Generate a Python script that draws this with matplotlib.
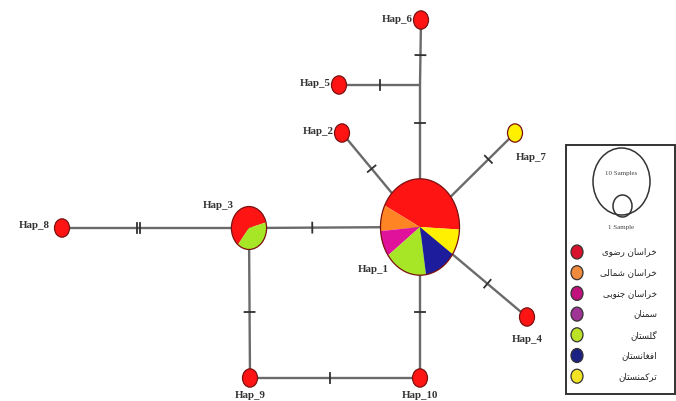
import matplotlib
matplotlib.use("Agg")
import matplotlib.pyplot as plt
import numpy as np
from matplotlib.patches import Ellipse, Polygon, Rectangle

# haplotypes, sample counts and how they split over the regions
haplotypes = ["Hap_1", "Hap_2", "Hap_3", "Hap_4", "Hap_5",
              "Hap_6", "Hap_7", "Hap_8", "Hap_9", "Hap_10"]
regions = ["خراسان رضوی", "خراسان شمالی", "خراسان جنوبی", "سمنان",
           "گلستان", "افغانستان", "ترکمنستان"]
region_colors = ["#ff1414", "#ff8424", "#e0129c", "#a02c98",
                 "#a6e626", "#1c1c9c", "#fff000"]
legend_colors = ["#d8122c", "#f08a3c", "#c0127c", "#a03494",
                 "#bce228", "#1c2282", "#f2e424"]
# counts per region, same order as regions
hap_counts = {
    "Hap_1": [10, 2, 2, 0, 4, 3, 2],
    "Hap_2": [1, 0, 0, 0, 0, 0, 0],
    "Hap_3": [3, 0, 0, 0, 2, 0, 0],
    "Hap_4": [1, 0, 0, 0, 0, 0, 0],
    "Hap_5": [1, 0, 0, 0, 0, 0, 0],
    "Hap_6": [1, 0, 0, 0, 0, 0, 0],
    "Hap_7": [0, 0, 0, 0, 0, 0, 1],
    "Hap_8": [1, 0, 0, 0, 0, 0, 0],
    "Hap_9": [1, 0, 0, 0, 0, 0, 0],
    "Hap_10": [1, 0, 0, 0, 0, 0, 0],
}
# links: (from, to, mutation steps)
links = [("Hap_6", "mv1", 1), ("mv1", "Hap_5", 1), ("mv1", "Hap_1", 1),
         ("Hap_2", "Hap_1", 1), ("Hap_7", "Hap_1", 1), ("Hap_4", "Hap_1", 1),
         ("Hap_3", "Hap_1", 1), ("Hap_8", "Hap_3", 2), ("Hap_3", "Hap_9", 1),
         ("Hap_9", "Hap_10", 1), ("Hap_10", "Hap_1", 1)]

# network layout (screen units, y down)
pos = {"Hap_1": (420, 227), "Hap_2": (342, 133), "Hap_3": (249, 228),
       "Hap_4": (527, 317), "Hap_5": (339, 85), "Hap_6": (421, 20),
       "Hap_7": (515, 133), "Hap_8": (62, 228), "Hap_9": (250, 378),
       "Hap_10": (420, 378), "mv1": (420, 85)}
tick_at = [0.54, 0.49, 0.27, 0.38, 0.28, 0.37, 0.37, 0.41, 0.56, 0.47, 0.44]
label_pos = {"Hap_1": (373, 270, "center"), "Hap_2": (334, 132, "right"),
             "Hap_3": (218, 206, "center"), "Hap_4": (527, 339, "center"),
             "Hap_5": (331, 84, "right"), "Hap_6": (413, 19, "right"),
             "Hap_7": (531, 158, "center"), "Hap_8": (50, 226, "right"),
             "Hap_9": (250, 395, "center"), "Hap_10": (420, 395, "center")}
start_angle = {"Hap_1": -3, "Hap_3": 15}

BASE_W, POWER, STRETCH = 15, 0.53, 1.22


# --- minimal Persian shaping so the glyphs join and read right to left ---
FORMS = {
    "ا": (0xFE8D, 0xFE8E, None, None), "ر": (0xFEAD, 0xFEAE, None, None),
    "و": (0xFEED, 0xFEEE, None, None),
    "ب": (0xFE8F, 0xFE90, 0xFE91, 0xFE92), "ت": (0xFE95, 0xFE96, 0xFE97, 0xFE98),
    "ج": (0xFE9D, 0xFE9E, 0xFE9F, 0xFEA0), "خ": (0xFEA5, 0xFEA6, 0xFEA7, 0xFEA8),
    "س": (0xFEB1, 0xFEB2, 0xFEB3, 0xFEB4), "ش": (0xFEB5, 0xFEB6, 0xFEB7, 0xFEB8),
    "ض": (0xFEBD, 0xFEBE, 0xFEBF, 0xFEC0), "غ": (0xFECD, 0xFECE, 0xFECF, 0xFED0),
    "ف": (0xFED1, 0xFED2, 0xFED3, 0xFED4), "ل": (0xFEDD, 0xFEDE, 0xFEDF, 0xFEE0),
    "م": (0xFEE1, 0xFEE2, 0xFEE3, 0xFEE4), "ن": (0xFEE5, 0xFEE6, 0xFEE7, 0xFEE8),
    "ی": (0xFBFC, 0xFBFD, 0xFBFE, 0xFBFF), "ک": (0xFB8E, 0xFB8F, 0xFB90, 0xFB91),
    "گ": (0xFB92, 0xFB93, 0xFB94, 0xFB95),
}


def shape(text):
    out = []
    for i, ch in enumerate(text):
        if ch not in FORMS:
            out.append(ch)
            continue
        f = FORMS[ch]
        prev = text[i - 1] if i > 0 else None
        nxt = text[i + 1] if i + 1 < len(text) else None
        jp = prev in FORMS and FORMS[prev][2] is not None
        jn = nxt in FORMS and f[2] is not None
        if jp and jn:
            code = f[3]
        elif jp:
            code = f[1]
        elif jn:
            code = f[2]
        else:
            code = f[0]
        out.append(chr(code))
    return "".join(reversed(out))


def node_size(n):
    w = BASE_W * n ** POWER
    return w, w * STRETCH


def wedge(ax, cx, cy, w, h, a1, a2, color):
    t = np.radians(np.linspace(a1, a2, 60))
    xs = np.concatenate([[cx], cx + w / 2 * np.cos(t)])
    ys = np.concatenate([[cy], cy - h / 2 * np.sin(t)])
    ax.add_patch(Polygon(np.column_stack([xs, ys]), closed=True,
                         facecolor=color, edgecolor="none", zorder=3))


def edge_end(name):
    return np.array(pos[name], dtype=float)


fig = plt.figure(figsize=(6.76, 4.01), dpi=100)
ax = fig.add_axes([0, 0, 1, 1])
ax.set_xlim(0, 676)
ax.set_ylim(401, 0)
ax.axis("off")

line_col = "#6a6a6a"

# links with mutation ticks
for (a, b, steps), frac in zip(links, tick_at):
    p, q = edge_end(a), edge_end(b)
    ax.plot([p[0], q[0]], [p[1], q[1]], color=line_col, lw=1.7, zorder=1,
            solid_capstyle="butt")
    d = (q - p) / np.linalg.norm(q - p)
    nrm = np.array([-d[1], d[0]])
    for k in range(steps):
        c = p + (q - p) * frac + d * (k - (steps - 1) / 2) * 3.0
        e1, e2 = c - nrm * 5, c + nrm * 5
        ax.plot([e1[0], e2[0]], [e1[1], e2[1]], color="#303030", lw=1.3,
                zorder=2)

# haplotype nodes
for name in haplotypes:
    counts = np.array(hap_counts[name], dtype=float)
    cx, cy = pos[name]
    w, h = node_size(counts.sum())
    nz = np.nonzero(counts)[0]
    if len(nz) == 1:
        ax.add_patch(Ellipse((cx, cy), w, h, facecolor=region_colors[nz[0]],
                             edgecolor="none", zorder=3))
    else:
        a = start_angle.get(name, 0)
        for idx in nz:
            span = 360 * counts[idx] / counts.sum()
            wedge(ax, cx, cy, w, h, a, a + span, region_colors[idx])
            a += span
    ax.add_patch(Ellipse((cx, cy), w, h, facecolor="none",
                         edgecolor="#7a1010", lw=0.9, zorder=4))
    lx, ly, ha = label_pos[name]
    ax.text(lx, ly, name, ha=ha, va="center", fontsize=7.8,
            fontweight="bold", family="Liberation Serif", color="#333333",
            zorder=5)

# legend
ax.add_patch(Rectangle((566, 145), 109, 249, facecolor="white",
                       edgecolor="#333333", lw=1.4, zorder=1))
big_w, big_h = 57, 67
ax.add_patch(Ellipse((621.5, 181.5), big_w, big_h, facecolor="none",
                     edgecolor="#333333", lw=1.1, zorder=3))
ax.add_patch(Ellipse((622.5, 206), 19, 22, facecolor="none",
                     edgecolor="#333333", lw=1.1, zorder=3))
ax.text(621.5, 173, "10 Samples", ha="center", va="center", fontsize=5,
        family="Liberation Serif", color="#444444")
ax.text(621.5, 227, "1 Sample", ha="center", va="center", fontsize=5,
        family="Liberation Serif", color="#444444")

for i, (reg, col) in enumerate(zip(regions, legend_colors)):
    y = 252 + 20.7 * i
    ax.add_patch(Ellipse((577, y), 12, 14, facecolor=col,
                         edgecolor="#333333", lw=0.9, zorder=3))
    ax.text(657, y, shape(reg), ha="right", va="center", fontsize=6.3,
            family="DejaVu Sans", color="#222222")

fig.savefig("out.png", dpi=100)
